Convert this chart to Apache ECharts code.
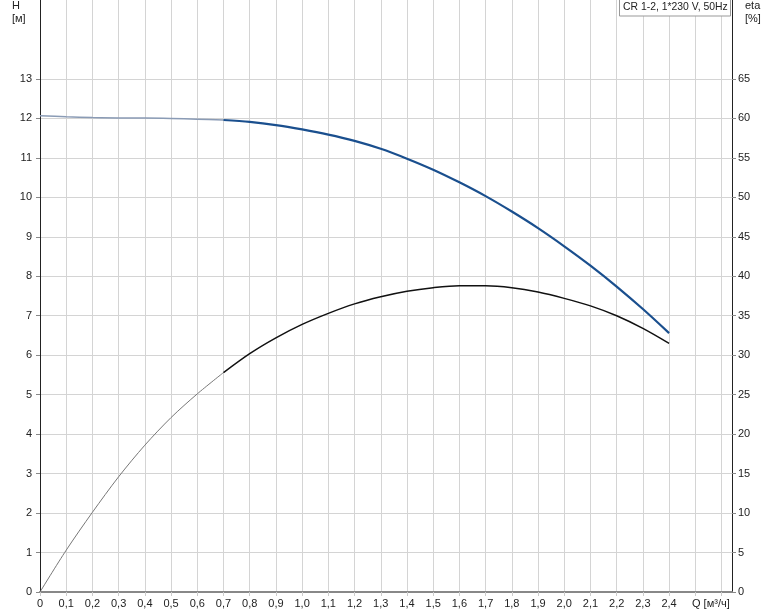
<!DOCTYPE html>
<html><head><meta charset="utf-8">
<script src="https://cdn.jsdelivr.net/npm/echarts@6/dist/echarts.min.js"></script>
<style>html,body{margin:0;padding:0;background:#fff}#c{width:774px;height:611px}</style>
</head><body><div id="c"></div>
<script>
const qThin = [0, 0.1, 0.2, 0.3, 0.4, 0.5, 0.6, 0.7];
const hThin = [12.07, 12.04, 12.02, 12.01, 12.01, 12.0, 11.98, 11.96];
const qThick = [0.7, 0.8, 0.9, 1.0, 1.1, 1.2, 1.3, 1.4, 1.5, 1.6, 1.7, 1.8, 1.9, 2.0, 2.1, 2.2, 2.3, 2.4];
const hThick = [11.96, 11.91, 11.83, 11.72, 11.59, 11.43, 11.23, 10.98, 10.7, 10.38, 10.03, 9.64, 9.22, 8.76, 8.27, 7.74, 7.17, 6.56];
const etaThinQ = [0, 0.1, 0.2, 0.3, 0.4, 0.5, 0.6, 0.7];
const etaThin = [0, 5.3, 10.1, 14.6, 18.6, 22.1, 25.1, 27.8];
const etaThick = [27.8, 30.2, 32.2, 33.9, 35.3, 36.5, 37.4, 38.1, 38.55, 38.8, 38.8, 38.55, 38.0, 37.2, 36.25, 35.0, 33.4, 31.5];
const hTicks = [0,1,2,3,4,5,6,7,8,9,10,11,12,13];
const etaTicks = [0,5,10,15,20,25,30,35,40,45,50,55,60,65];
const legendText = 'CR 1-2, 1*230 V, 50Hz';
const xName = 'Q [м³/ч]';

const font = 'Liberation Sans, Arial, sans-serif';
const pairs = (xs, ys) => xs.map((x, i) => [x, ys[i]]);
const chart = echarts.init(document.getElementById('c'));
chart.setOption({
  animation: false,
  grid: { left: 40, right: 42, top: 0, bottom: 19, containLabel: false },
  xAxis: {
    type: 'value', min: 0, max: 2.64, interval: 0.1,
    axisLine: { lineStyle: { color: '#888', width: 2 } },
    axisTick: { show: true, length: 4, lineStyle: { color: '#ccc' } },
    axisLabel: {
      color: '#222', fontSize: 11, fontFamily: font, margin: 6, showMaxLabel: false,
      formatter: v => {
        if (v < 1e-6) return '0';
        if (v > 2.45) return '';
        return v.toFixed(1).replace('.', ',');
      }
    },
    splitLine: { show: true, lineStyle: { color: '#d4d4d4', width: 1 } }
  },
  yAxis: [{
    type: 'value', min: 0, max: 15, interval: 1, position: 'left',
    axisLine: { show: true, lineStyle: { color: '#222', width: 1 } },
    axisTick: { show: true, length: 4, lineStyle: { color: '#888' }, customValues: hTicks },
    axisLabel: { color: '#222', fontSize: 11, fontFamily: font, margin: 8, formatter: v => v > 13 ? '' : String(v) },
    splitLine: { show: true, lineStyle: { color: '#d4d4d4', width: 1 } }
  }, {
    type: 'value', min: 0, max: 75, interval: 5, position: 'right',
    axisLine: { show: true, lineStyle: { color: '#222', width: 1 } },
    axisTick: { show: true, length: 4, lineStyle: { color: '#888' }, customValues: etaTicks },
    axisLabel: { color: '#222', fontSize: 11, fontFamily: font, margin: 6, formatter: v => v > 65 ? '' : String(v) },
    splitLine: { show: false }
  }],
  series: [
    { type: 'line', yAxisIndex: 0, data: pairs(qThin, hThin), smooth: 0.3, symbol: 'none', lineStyle: { color: '#8a9bb5', width: 1.5 } },
    { type: 'line', yAxisIndex: 0, data: pairs(qThick, hThick), smooth: 0.3, symbol: 'none', lineStyle: { color: '#1a4f8e', width: 2.2 } },
    { type: 'line', yAxisIndex: 1, data: pairs(etaThinQ, etaThin), smooth: 0.3, symbol: 'none', lineStyle: { color: '#777', width: 1 } },
    { type: 'line', yAxisIndex: 1, data: pairs(qThick, etaThick), smooth: 0.3, symbol: 'none', lineStyle: { color: '#111', width: 1.5 } }
  ],
  graphic: [
    { type: 'text', left: 12, top: 0, style: { text: 'H', font: '11px ' + font, fill: '#222' } },
    { type: 'text', left: 12, top: 13, style: { text: '[м]', font: '11px ' + font, fill: '#222' } },
    { type: 'text', left: 745, top: 0, style: { text: 'eta', font: '11px ' + font, fill: '#222' } },
    { type: 'text', left: 745, top: 13, style: { text: '[%]', font: '11px ' + font, fill: '#222' } },
    { type: 'text', x: 692, y: 598, style: { text: xName, font: '11px ' + font, fill: '#222' } },
    { type: 'rect', shape: { x: 619.5, y: -1, width: 111, height: 17 }, style: { fill: '#fff', stroke: '#999', lineWidth: 1 }, z: 10 },
    { type: 'text', x: 623, y: 2.5, style: { text: legendText, font: '10.4px ' + font, fill: '#222' }, z: 11 }
  ]
});
</script></body></html>
